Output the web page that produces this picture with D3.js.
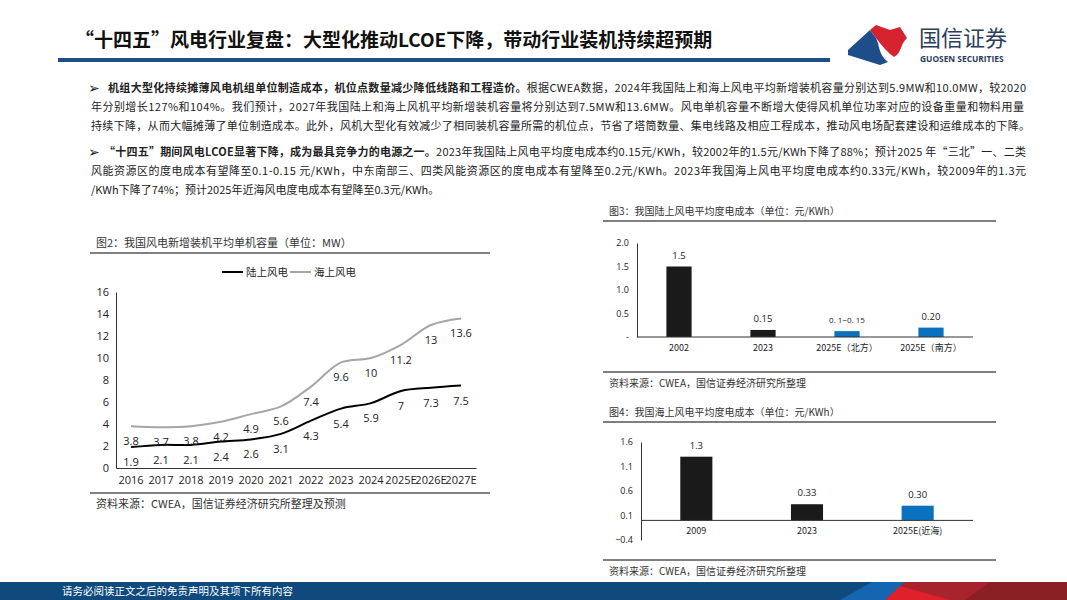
<!DOCTYPE html>
<html>
<head>
<meta charset="utf-8">
<script src="https://cdn.jsdelivr.net/npm/d3@7"></script>
<style>
  body { margin: 0; background: #fff; }
  svg { display: block; font-family: "Noto Sans CJK SC", "Noto Sans", sans-serif; }
</style>
</head>
<body>
<svg id="page" width="1067" height="600"></svg>
<script>
// ---- data ----
var years = ['2016', '2017', '2018', '2019', '2020', '2021', '2022', '2023', '2024', '2025E', '2026E', '2027E'];
var onshore = [1.9, 2.1, 2.1, 2.4, 2.6, 3.1, 4.3, 5.4, 5.9, 7, 7.3, 7.5];
var offshore = [3.8, 3.7, 3.8, 4.2, 4.9, 5.6, 7.4, 9.6, 10, 11.2, 13, 13.6];
var capTicks = [0, 2, 4, 6, 8, 10, 12, 14, 16];

var landCats = ['2002', '2023', '2025E（北方）', '2025E（南方）'];
var landCost = [1.5, 0.15, 0.125, 0.2];
var landLabels = ['1.5', '0.15', '0. 1−0. 15', '0.20'];
var landTicks = [0, 0.5, 1.0, 1.5, 2.0];

var seaCats = ['2009', '2023', '2025E(近海)'];
var seaCost = [1.3, 0.33, 0.30];
var seaLabels = ['1.3', '0.33', '0.30'];
var seaTicks = [-0.4, 0.1, 0.6, 1.1, 1.6];

var svg = d3.select('#page');

// ---- header ----
svg.append('text')
  .attr('x', 75).attr('y', 47)
  .attr('font-size', 19).attr('font-weight', 'bold').attr('fill', '#111')
  .text('“十四五”风电行业复盘：大型化推动LCOE下降，带动行业装机持续超预期');
svg.append('rect').attr('x', 58).attr('y', 58).attr('width', 772).attr('height', 4).attr('fill', '#1d4e89');

// logo
var logo = svg.append('g').attr('transform', 'translate(848,24)');
logo.append('path').attr('d', 'M0,26 L22,6 L28,14 C32,22 30,30 40,38 L32,41 L0,31 Z').attr('fill', '#1d4e89');
logo.append('path').attr('d', 'M22,6 L28,1 L42,6 L52,3 L59,14 C52,20 54,29 46,33 C40,29 34,22 28,14 Z').attr('fill', '#d7232f');
svg.append('text').attr('x', 919).attr('y', 46).attr('font-size', 22).attr('fill', '#2c3e5c').text('国信证券');
svg.append('text').attr('x', 920).attr('y', 62).attr('font-size', 8.4).attr('font-weight', 'bold')
  .attr('fill', '#2c3e5c').attr('font-family', 'Open Sans, sans-serif').text('GUOSEN SECURITIES');

// ---- body text ----
var bodyLines = [
  {x: 108, y: 92, len: 918, parts: [
    {b: true, t: '机组大型化持续摊薄风电机组单位制造成本，机位点数量减少降低线路和工程造价。'},
    {t: '根据CWEA数据，2024年我国陆上和海上风电平均新增装机容量分别达到5.9MW和10.0MW，较2020'}]},
  {x: 91, y: 111, len: 933, parts: [
    {t: '年分别增长127%和104%。我们预计，2027年我国陆上和海上风机平均新增装机容量将分别达到7.5MW和13.6MW。风电单机容量不断增大使得风机单位功率对应的设备重量和物料用量'}]},
  {x: 91, y: 130, len: 939, parts: [
    {t: '持续下降，从而大幅摊薄了单位制造成本。此外，风机大型化有效减少了相同装机容量所需的机位点，节省了塔筒数量、集电线路及相应工程成本，推动风电场配套建设和运维成本的下降。'}]},
  {x: 104, y: 156, len: 922, parts: [
    {b: true, t: '“十四五”期间风电LCOE显著下降，成为最具竞争力的电源之一。'},
    {t: '2023年我国陆上风电平均度电成本约0.15元/KWh，较2002年的1.5元/KWh下降了88%；预计2025 年“三北”一、二类'}]},
  {x: 91, y: 175, len: 935, parts: [
    {t: '风能资源区的度电成本有望降至0.1-0.15 元/KWh，中东南部三、四类风能资源区的度电成本有望降至0.2元/KWh。2023年我国海上风电平均度电成本约0.33元/KWh，较2009年的1.3元'}]},
  {x: 91, y: 194, parts: [
    {t: '/KWh下降了74%；预计2025年近海风电度电成本有望降至0.3元/KWh。'}]}
];
[92, 156].forEach(function(y){
  svg.append('text').attr('x', 88).attr('y', y + 1).attr('font-size', 14)
    .attr('font-family', 'DejaVu Sans').attr('font-weight', 'bold').attr('fill', '#222').text('➢');
});
bodyLines.forEach(function(l){
  var t = svg.append('text').attr('x', l.x).attr('y', l.y).attr('font-size', 11).attr('fill', '#222');
  if(l.len){ t.attr('textLength', l.len).attr('lengthAdjust', 'spacing'); }
  l.parts.forEach(function(p){
    t.append('tspan').attr('font-weight', p.b ? 'bold' : 'normal').text(p.t);
  });
});

// ---- figure 2: line chart ----
function frame(x0, x1, yTop, yBot, title, source, fs){
  svg.append('text').attr('x', x0 + 6).attr('y', yTop - 6).attr('font-size', fs).attr('fill', '#333').text(title);
  svg.append('line').attr('x1', x0).attr('x2', x1).attr('y1', yTop).attr('y2', yTop).attr('stroke', '#000');
  svg.append('line').attr('x1', x0).attr('x2', x1).attr('y1', yBot).attr('y2', yBot).attr('stroke', '#000');
  svg.append('text').attr('x', x0 + 6).attr('y', yBot + 15).attr('font-size', fs).attr('fill', '#333').text(source);
}

frame(90, 490, 253, 493, '图2：我国风电新增装机平均单机容量（单位：MW）', '资料来源：CWEA，国信证券经济研究所整理及预测', 11);

var x2 = d3.scaleBand().domain(years).range([116, 476]);
var y2 = d3.scaleLinear().domain([0, 16]).range([468, 292]);
var g2 = svg.append('g');

var yAx2 = g2.append('g').attr('transform', 'translate(116,0)')
  .call(d3.axisLeft(y2).tickValues(capTicks).tickSize(0).tickPadding(7));
yAx2.select('.domain').attr('stroke', '#333');
yAx2.selectAll('text').attr('font-size', 11).attr('fill', '#222').attr('font-family', 'Open Sans, sans-serif');

var xAx2 = g2.append('g').attr('transform', 'translate(0,468)')
  .call(d3.axisBottom(x2).tickSize(0).tickPadding(8));
xAx2.select('.domain').attr('stroke', '#333');
xAx2.selectAll('text').attr('font-size', 11).attr('fill', '#222').attr('font-family', 'Open Sans, sans-serif');

var line2 = d3.line()
  .x(function(d, i){ return x2(years[i]) + x2.bandwidth() / 2; })
  .y(function(d){ return y2(d); })
  .curve(d3.curveCatmullRom.alpha(0.5));

g2.append('path').datum(offshore).attr('d', line2).attr('fill', 'none').attr('stroke', '#a6a6a6').attr('stroke-width', 2);
g2.append('path').datum(onshore).attr('d', line2).attr('fill', 'none').attr('stroke', '#000').attr('stroke-width', 2);

[offshore, onshore].forEach(function(s){
  g2.selectAll(null).data(s).enter().append('text')
    .attr('x', function(d, i){ return x2(years[i]) + x2.bandwidth() / 2; })
    .attr('y', function(d){ return y2(d) + 19; })
    .attr('text-anchor', 'middle').attr('font-size', 11).attr('fill', '#222')
    .attr('font-family', 'Open Sans, sans-serif')
    .text(function(d){ return d; });
});

// legend
var leg = [{name: '陆上风电', color: '#000', x: 222}, {name: '海上风电', color: '#a6a6a6', x: 290}];
leg.forEach(function(l){
  g2.append('line').attr('x1', l.x).attr('x2', l.x + 21).attr('y1', 272).attr('y2', 272)
    .attr('stroke', l.color).attr('stroke-width', 2);
  g2.append('text').attr('x', l.x + 24).attr('y', 276).attr('font-size', 10.5).attr('fill', '#222').text(l.name);
});

// ---- bar charts ----
function barChart(opt){
  frame(603, 996, opt.top, opt.bot, opt.title, '资料来源：CWEA，国信证券经济研究所整理', 10);
  var x = d3.scaleBand().domain(opt.cats).range([opt.x0, 973]).paddingInner(opt.pad).paddingOuter(opt.pad / 2);
  var y = d3.scaleLinear().domain(opt.domain).range(opt.yRange);
  var g = svg.append('g');

  g.selectAll('rect').data(opt.values).enter().append('rect')
    .attr('x', function(d, i){ return x(opt.cats[i]); })
    .attr('width', x.bandwidth())
    .attr('y', function(d){ return y(d); })
    .attr('height', function(d){ return y(0) - y(d); })
    .attr('fill', function(d, i){ return opt.colors[i]; });

  g.selectAll('text.val').data(opt.values).enter().append('text')
    .attr('class', 'val')
    .attr('x', function(d, i){ return x(opt.cats[i]) + x.bandwidth() / 2; })
    .attr('y', function(d){ return y(d) - 8; })
    .attr('text-anchor', 'middle')
    .attr('font-size', function(d, i){ return opt.labels[i].indexOf('−') >= 0 ? 8 : 9.5; })
    .attr('fill', '#222').attr('font-family', 'Open Sans, sans-serif')
    .text(function(d, i){ return opt.labels[i]; });

  var ya = g.append('g').attr('transform', 'translate(' + opt.x0 + ',0)')
    .call(d3.axisLeft(y).tickValues(opt.ticks).tickSize(0).tickPadding(8).tickFormat(opt.fmt));
  ya.select('.domain').attr('stroke', '#333');
  ya.selectAll('text').attr('font-size', 9).attr('fill', '#222').attr('font-family', 'Open Sans, sans-serif');

  g.append('line').attr('x1', opt.x0).attr('x2', 973).attr('y1', y(0)).attr('y2', y(0)).attr('stroke', '#333');
  g.selectAll('text.cat').data(opt.cats).enter().append('text')
    .attr('class', 'cat')
    .attr('x', function(d){ return x(d) + x.bandwidth() / 2; })
    .attr('y', y(0) + 14)
    .attr('text-anchor', 'middle').attr('font-size', 9).attr('fill', '#222')
    .text(function(d){ return d; });
}

barChart({
  title: '图3：我国陆上风电平均度电成本（单位：元/KWh）',
  top: 221, bot: 372, x0: 637,
  cats: landCats, values: landCost, labels: landLabels,
  colors: ['#1a1a1a', '#1a1a1a', '#0a70c0', '#0a70c0'],
  domain: [0, 2], yRange: [337, 243], ticks: landTicks, pad: 0.7,
  fmt: function(d){ return d === 0 ? '-' : d3.format('.1f')(d); }
});

barChart({
  title: '图4：我国海上风电平均度电成本（单位：元/KWh）',
  top: 422, bot: 560, x0: 641,
  cats: seaCats, values: seaCost, labels: seaLabels,
  colors: ['#1a1a1a', '#1a1a1a', '#0a70c0'],
  domain: [-0.4, 1.6], yRange: [540, 442], ticks: seaTicks, pad: 0.71,
  fmt: function(d){ return d3.format('.1f')(d); }
});

// ---- footer ----
var foot = svg.append('g');
foot.append('rect').attr('x', 0).attr('y', 582).attr('width', 1067).attr('height', 18).attr('fill', '#104a7d');
foot.append('polygon').attr('points', '840,600 872,582 905,582 885,600').attr('fill', '#1565b0');
foot.append('polygon').attr('points', '885,600 905,582 1067,582 1067,600').attr('fill', '#a8242c');
foot.append('polygon').attr('points', '885,600 900,586 950,600').attr('fill', '#e0202b');
foot.append('polygon').attr('points', '965,600 990,582 1067,582 1067,600').attr('fill', '#8a1f24');
foot.append('text').attr('x', 62).attr('y', 595).attr('font-size', 10.5).attr('fill', '#fff')
  .text('请务必阅读正文之后的免责声明及其项下所有内容');
</script>
</body>
</html>
